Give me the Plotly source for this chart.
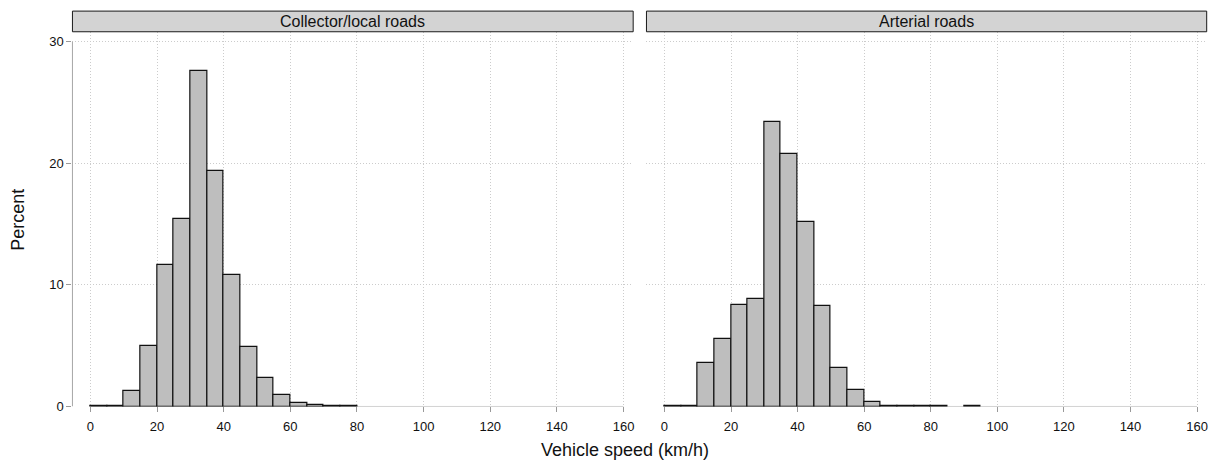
import plotly.graph_objects as go

# ---- data ----
bin_starts_collector = [0, 5, 10, 15, 20, 25, 30, 35, 40, 45, 50, 55, 60, 65, 70, 75]
pct_collector = [0.03, 0.01, 1.24, 4.95, 11.6, 15.45, 27.6, 19.35, 10.78, 4.87,
                 2.31, 0.91, 0.30, 0.10, 0.03, 0.02]

bin_starts_arterial = [0, 5, 10, 15, 20, 25, 30, 35, 40, 45, 50, 55, 60, 65, 70,
                       75, 80, 85, 90]
pct_arterial = [0.08, 0.02, 3.6, 5.56, 8.33, 8.84, 23.42, 20.73, 15.16, 8.3,
                3.15, 1.32, 0.38, 0.08, 0.03, 0.02, 0.02, None, 0.02]

panel_titles = ["Collector/local roads", "Arterial roads"]
x_ticks = [0, 20, 40, 60, 80, 100, 120, 140, 160]
y_ticks = [0, 10, 20, 30]
bin_width = 5

W, H = 1211, 471
FONT = "Liberation Sans, Arial, Helvetica, sans-serif"

def px_x(p):
    return p / W

def px_y(p):
    return 1 - p / H

dom1 = [px_x(72.5), px_x(633.7)]
dom2 = [px_x(647.0), px_x(1207.7)]
ydom = [px_y(413.5), px_y(32.5)]

fig = go.Figure()
bar_style = dict(marker=dict(color="#bebebe", line=dict(color="#111111", width=1.2)),
                 offset=0, width=bin_width, showlegend=False, hoverinfo="x+y")
fig.add_trace(go.Bar(x=bin_starts_collector, y=pct_collector, xaxis="x", yaxis="y", **bar_style))
fig.add_trace(go.Bar(x=bin_starts_arterial, y=pct_arterial, xaxis="x2", yaxis="y2", **bar_style))

xr = [-5.4, 162.9]
yr = [0, 30.8]
grid = dict(showgrid=True, gridcolor="#cccccc", gridwidth=1, griddash="1px,2px", zeroline=False,
            showline=False)
xaxis_common = dict(range=xr, tickvals=x_ticks, ticks="outside", ticklen=5, tickcolor="#999999",
                    ticklabelstandoff=3,
                    tickfont=dict(family=FONT, size=13, color="#111111"), **grid)
fig.update_layout(
    width=W, height=H,
    margin=dict(l=0, r=0, t=0, b=0),
    paper_bgcolor="white", plot_bgcolor="white",
    bargap=0,
    xaxis=dict(domain=dom1, anchor="y", **xaxis_common),
    xaxis2=dict(domain=dom2, anchor="y2", **xaxis_common),
    yaxis=dict(domain=ydom, range=yr, tickvals=y_ticks, ticks="outside", ticklen=5,
               tickcolor="#999999", tickfont=dict(family=FONT, size=13, color="#111111"),
               anchor="x", **grid),
    yaxis2=dict(domain=ydom, range=yr, tickvals=y_ticks, showticklabels=False, ticks="",
                anchor="x2", **grid),
)

shapes = []
# range-frame axis lines
for xa, ya in [("x", "y"), ("x2", "y2")]:
    shapes.append(dict(type="line", xref=xa, yref=ya, x0=x_ticks[0], x1=x_ticks[-1], y0=0, y1=0,
                       line=dict(color="#a6a6a6", width=1), layer="below"))
shapes.append(dict(type="line", xref="x domain", yref="y", x0=0, x1=0, y0=y_ticks[0], y1=y_ticks[-1],
                   line=dict(color="#a6a6a6", width=1)))
# strips
annotations = []
for dom, title in zip([dom1, dom2], panel_titles):
    shapes.append(dict(type="rect", xref="paper", yref="paper", x0=dom[0], x1=dom[1],
                       y0=px_y(32.3), y1=px_y(11.3), fillcolor="#d3d3d3",
                       line=dict(color="#1a1a1a", width=1)))
    annotations.append(dict(text=title, xref="paper", yref="paper", x=(dom[0] + dom[1]) / 2,
                            y=px_y(21.8), xanchor="center", yanchor="middle", showarrow=False,
                            font=dict(family=FONT, size=16, color="#111111")))
annotations.append(dict(text="Vehicle speed (km/h)", xref="paper", yref="paper", x=px_x(626),
                        y=px_y(458), xanchor="center", yanchor="middle", showarrow=False,
                        font=dict(family=FONT, size=18, color="#111111")))
annotations.append(dict(text="Percent", xref="paper", yref="paper", x=px_x(18.5),
                        y=px_y(223), xanchor="center", yanchor="middle", showarrow=False,
                        textangle=-90, font=dict(family=FONT, size=18, color="#111111")))
fig.update_layout(shapes=shapes, annotations=annotations)

fig.write_html("out.html")
